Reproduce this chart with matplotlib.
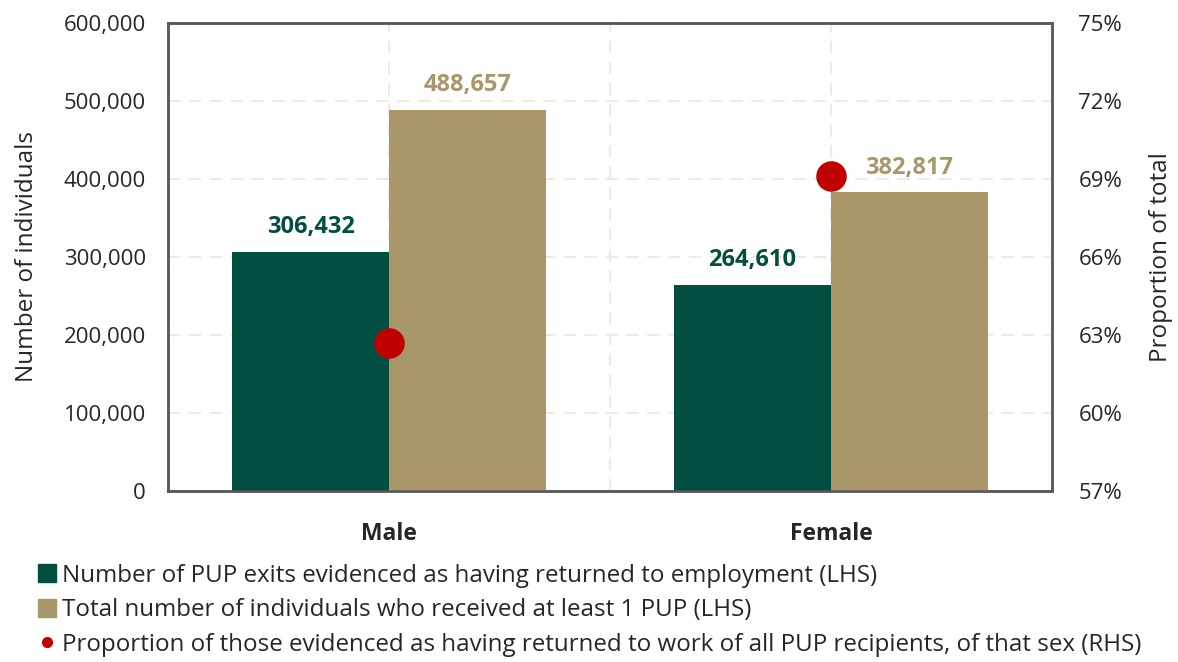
import matplotlib
matplotlib.use('Agg')
import matplotlib.pyplot as plt
from matplotlib.lines import Line2D
from matplotlib.patches import Patch
from matplotlib.ticker import FuncFormatter

plt.rcParams['font.family'] = ['Open Sans', 'DejaVu Sans']

categories = ['Male', 'Female']
returned = [306432, 264610]
total = [488657, 382817]
proportion = [62.7, 69.1]

series_labels = [
    'Number of PUP exits evidenced as having returned to employment (LHS)',
    'Total number of individuals who received at least 1 PUP (LHS)',
    'Proportion of those evidenced as having returned to work of all PUP recipients, of that sex (RHS)',
]

green = '#024F42'
tan = '#A9976A'
red = '#C00000'
grid_col = '#F0EBE0'
text_col = '#262626'

fig = plt.figure(figsize=(11.78, 6.62), dpi=100)
ax = fig.add_axes([0.1426, 0.2583, 0.7504, 0.707])
ax2 = ax.twinx()

x = list(range(len(categories)))
w = 0.355
b1 = ax.bar([i - w / 2 for i in x], returned, width=w, color=green, zorder=3)
b2 = ax.bar([i + w / 2 for i in x], total, width=w, color=tan, zorder=3)

for bars, vals, col in [(b1, returned, green), (b2, total, tan)]:
    for bar, v in zip(bars, vals):
        ax.annotate(f'{v:,}', (bar.get_x() + bar.get_width() / 2, v),
                    xytext=(0, 9), textcoords='offset points',
                    ha='center', va='bottom', fontsize=17,
                    fontweight='bold', color=col)

ax2.scatter(x, proportion, s=440, color=red, zorder=5)

ax.set_xlim(-0.5, 1.5)
ax.set_ylim(0, 600000)
ax.set_yticks(range(0, 600001, 100000))
ax.yaxis.set_major_formatter(FuncFormatter(lambda v, p: f'{int(v):,}'))
ax2.set_ylim(57, 75)
ax2.set_yticks(range(57, 76, 3))
ax2.yaxis.set_major_formatter(FuncFormatter(lambda v, p: f'{int(v)}%'))

ax.set_xticks(x)
ax.set_xticklabels(categories, fontsize=16.5, fontweight='bold', color=text_col)
ax.set_xticks([0.5], minor=True)
ax.tick_params(axis='x', which='both', length=0, pad=22)
ax.tick_params(axis='y', length=0, labelsize=16, labelcolor=text_col, pad=16)
ax2.tick_params(axis='y', length=0, labelsize=16, labelcolor=text_col, pad=19)

ax.grid(True, which='both', color=grid_col, linestyle=(0, (6, 4)), linewidth=1.5, zorder=0)
ax.set_axisbelow(True)

for a in (ax, ax2):
    for s in a.spines.values():
        s.set_color('#595959')
        s.set_linewidth(1.8)

ax.set_ylabel('Number of individuals', fontsize=17.5, color=text_col, labelpad=18)
ax2.set_ylabel('Proportion of total', fontsize=17.5, color=text_col, labelpad=19)

handles = [
    Patch(color=green),
    Patch(color=tan),
    Line2D([], [], marker='o', linestyle='none', color=red, markersize=7),
]
fig.legend(handles, series_labels, loc='upper left', bbox_to_anchor=(0.024, 0.163),
           frameon=False, fontsize=17.4, handlelength=0.75, handleheight=0.75,
           handletextpad=0.25, labelspacing=0.44, borderaxespad=0,
           labelcolor=text_col)

fig.savefig('out.png', dpi=100)
